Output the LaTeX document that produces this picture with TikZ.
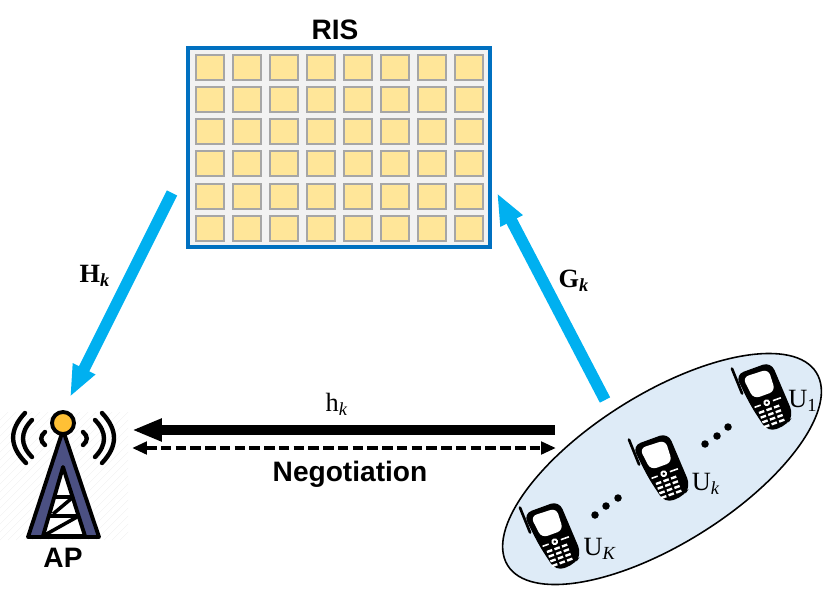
\documentclass[tikz,border=0pt]{standalone}
\usepackage{fontspec}
\setmainfont{Liberation Serif}
\setsansfont{Liberation Sans}
\usepackage{xcolor}
\usepackage{tikz}
\usetikzlibrary{arrows.meta,shapes.geometric}
\definecolor{RisBlue}{HTML}{0070C0}
\definecolor{RisPanel}{HTML}{F2F2F2}
\definecolor{CellYellow}{HTML}{FFE699}
\definecolor{CellGrey}{HTML}{A6A6A6}
\definecolor{LinkBlue}{HTML}{00B0F0}
\definecolor{CloudBlue}{HTML}{DEEBF7}
\definecolor{TowerNavy}{HTML}{4B5082}
\definecolor{TowerYellow}{HTML}{FFC035}
\tikzset{
  risbox/.style={draw=RisBlue,fill=RisPanel,line width=2.4pt,minimum width=6.04cm,minimum height=3.98cm,inner sep=0pt},
  riscell/.style={draw=CellGrey,fill=CellYellow,line width=1.2pt,minimum width=0.56cm,minimum height=0.5cm,inner sep=0pt},
  linkarrow/.style={LinkBlue,line width=6.6pt,-{Triangle[length=18pt,width=13pt]}},
  directarrow/.style={black,line width=6.2pt,-{Triangle[length=17pt,width=12pt]}},
  negoarrow/.style={black,line width=2.6pt,dash pattern=on 6pt off 2.4pt,{Triangle[length=8.5pt,width=7pt]}-{Triangle[length=8.5pt,width=7pt]}},
  wave/.style={line width=2.5pt,line cap=round},
  titlelabel/.style={font=\sffamily\bfseries\fontsize{16}{18}\selectfont,inner sep=0pt},
  linklabel/.style={font=\bfseries\fontsize{15}{17}\selectfont,inner sep=0pt},
  userlabel/.style={font=\fontsize{15}{17}\selectfont,inner sep=0pt},
  dot/.style={circle,fill=black,minimum size=0.15cm,inner sep=0pt}
}
\newcommand{\PhoneIcon}{%
  \tikz[x=0.02cm,y=0.02cm]{
    \useasboundingbox (-30,-40) rectangle (30,40);
    \draw[line width=1.5pt,line cap=round] (-21,39) -- (-20,12);
    \fill[black,rounded corners=5pt] (-20,32) -- (18,32) -- (21,-26) -- (11,-33) -- (-9,-33) -- (-16,-3) -- cycle;
    \fill[white,rounded corners=3.5pt] (-14,27) -- (13,26) -- (12,3) -- (-11,3) -- cycle;
    \foreach \y in {-12,-17,-22,-27} {
      \foreach \x in {-8,0,8} {
        \fill[white] (\x-2.8,\y-1.2) rectangle (\x+2.8,\y+1.2);
      }
    }
    \fill[white] (0,-5) circle (3.4);
    \fill[black] (0,-5) circle (1.4);
    \fill[white] (-13,-6) rectangle (-6.5,-4.4);
    \fill[white] (6.5,-6) rectangle (15,-4.4);
  }%
}

\begin{document}
\begin{tikzpicture}[x=0.02cm,y=-0.02cm]
  \useasboundingbox (0,0) rectangle (830,591);

  % RIS panel
  \node[risbox] (ris) at (339,147.5) {};
  \foreach \r in {0,...,5} {
    \foreach \c in {0,...,7} {
      \node[riscell] (cell-\r-\c) at ({210+37*\c},{67.3+32.2*\r}) {};
    }
  }
  \node[titlelabel] (risLabel) at (335,30) {RIS};

  % Faint backdrop of the tower
  \begin{scope}
    \clip (0,412) rectangle (128,540);
    \foreach \i in {0,8,...,264} {
      \draw[black!6,very thin] (\i,412) -- (\i-128,540);
    }
  \end{scope}

  % Tower
  \draw[wave] (25,413) .. controls (9,430) and (9,446) .. (26,463);
  \draw[wave] (32,420) .. controls (20,432) and (20,445) .. (32,457);
  \draw[wave] (45,432) .. controls (40,436) and (40,441) .. (45,445);
  \draw[wave] (102,413) .. controls (118,430) and (118,446) .. (102,463);
  \draw[wave] (95,420) .. controls (107,432) and (107,445) .. (95,457);
  \draw[wave] (83,432) .. controls (88,436) and (88,441) .. (83,445);
  \draw[fill=TowerNavy,line width=2.2pt,line join=round] (63,430) -- (99,537) -- (28,537) -- cycle;
  \draw[fill=white,line width=2.2pt,line join=round] (63,467) -- (85,536) -- (43,536) -- cycle;
  \draw[line width=2pt] (55,497) -- (72,497);
  \draw[line width=2pt] (50,516) -- (77,516);
  \draw[line width=2pt] (53,514) -- (72,498);
  \draw[line width=2pt] (43,536) -- (77,517);
  \draw[line width=2.2pt] (28,537) -- (99,537);
  \draw[fill=TowerYellow,line width=2.2pt] (63,423) circle (11);
  \node[titlelabel] (apLabel) at (63,558) {AP};

  % Users
  \node[ellipse,draw=black,fill=CloudBlue,line width=0.9pt,rotate=32,minimum width=7.28cm,minimum height=3cm,inner sep=0pt] (users) at (662,469) {};
  \node[rotate=20,inner sep=0pt] (phoneOne) at (765,398) {\PhoneIcon{}};
  \node[rotate=20,inner sep=0pt] (phoneMid) at (662,469) {\PhoneIcon{}};
  \node[rotate=20,inner sep=0pt] (phoneLast) at (553,537) {\PhoneIcon{}};
  \node[userlabel] (uOne) at (803,401) {U\textsubscript{1}};
  \node[userlabel] (uMid) at (706,484) {U\textsubscript{\textit{k}}};
  \node[userlabel] (uLast) at (600,549) {U\textsubscript{\textit{K}}};
  \foreach \n/\x/\y in {a/705/444,b/717/436,c/728/427,d/595/515,e/606/506,f/618/498} {
    \node[dot] (dot-\n) at (\x,\y) {};
  }

  % Links
  \coordinate (hStart) at (172,193);
  \coordinate (hEnd) at (70,397);
  \coordinate (gStart) at (605,400);
  \coordinate (gEnd) at (497,193);
  \coordinate (directStart) at (555,430);
  \coordinate (directEnd) at (132,430);
  \coordinate (negoLeft) at (132,448);
  \coordinate (negoRight) at (556,448);
  \draw[linkarrow] (hStart) -- (hEnd);
  \draw[linkarrow] (gStart) -- (gEnd);
  \draw[directarrow] (directStart) -- (directEnd);
  \draw[negoarrow] (negoLeft) -- (negoRight);

  \node[linklabel] (hLabel) at (95,276) {H\textsubscript{\textit{k}}};
  \node[linklabel] (gLabel) at (574,281) {G\textsubscript{\textit{k}}};
  \node[userlabel] (directLabel) at (337,404) {h\textsubscript{\textit{k}}};
  \node[titlelabel] (negoLabel) at (350,474) {Negotiation};
\end{tikzpicture}
\end{document}
